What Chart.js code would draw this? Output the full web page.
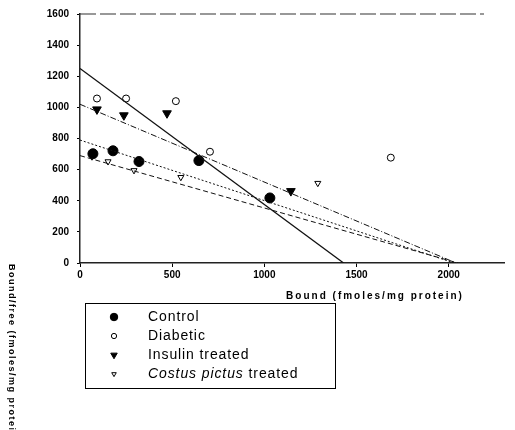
<!DOCTYPE html>
<html>
<head>
<meta charset="utf-8">
<script src="https://cdn.jsdelivr.net/npm/chart.js@4"></script>
<style>
    html, body { margin: 0; padding: 0; background: #fff; }
    #wrap { width: 515px; height: 430px; }
</style>
</head>
<body>
<div id="wrap"><canvas id="chart-scatchard"></canvas></div>
<script>
// Scatchard plot: bound vs bound/free for the four groups
var controlX = [70, 179, 320, 645, 1030];
var controlY = [702, 721, 652, 658, 418];
var diabeticX = [92, 250, 520, 705, 1686];
var diabeticY = [1057, 1057, 1040, 715, 677];
var insulinX = [92, 238, 472, 1144];
var insulinY = [987, 949, 962, 462];
var costusX = [65, 152, 293, 547, 1290];
var costusY = [683, 652, 595, 551, 513];

// regression lines as [y-intercept, x-intercept]
var controlFit = [790, 2030];
var diabeticFit = [1250, 1430];
var insulinFit = [1020, 2040];
var costusFit = [690, 2050];

var xTicks = [0, 500, 1000, 1500, 2000];
var yTicks = [0, 200, 400, 600, 800, 1000, 1200, 1400, 1600];

function pts(xs, ys) {
    return xs.map(function(x, i) { return {x: x, y: ys[i]}; });
}
function fit(f) {
    return [{x: 0, y: f[0]}, {x: f[1], y: 0}];
}
function lineSet(f, dash, width) {
    return {
        type: 'line', data: fit(f), showLine: true, pointRadius: 0,
        borderColor: '#111', borderWidth: width, borderDash: dash, fill: false
    };
}

var groups = [
    {label: 'Control', style: 'circle', radius: 5, rotation: 0, fill: '#000'},
    {label: 'Diabetic', style: 'circle', radius: 3.5, rotation: 0, fill: '#fff'},
    {label: 'Insulin treated', style: 'triangle', radius: 5, rotation: 180, fill: '#000'},
    {label: 'Costus pictus treated', style: 'triangle', radius: 3.5, rotation: 180, fill: '#fff'}
];
var groupData = [pts(controlX, controlY), pts(diabeticX, diabeticY), pts(insulinX, insulinY), pts(costusX, costusY)];

var datasets = [
    lineSet(diabeticFit, [], 1.3),
    lineSet(insulinFit, [6, 2, 1, 2], 1),
    lineSet(controlFit, [2, 2], 1),
    lineSet(costusFit, [5, 3], 1)
];
groups.forEach(function(g, i) {
    datasets.push({
        type: 'scatter', label: g.label, data: groupData[i],
        pointStyle: g.style, pointRadius: g.radius, pointRotation: g.rotation,
        pointBackgroundColor: g.fill, pointBorderColor: '#000', pointBorderWidth: 1
    });
});

var extras = {
    id: 'extras',
    afterDraw: function(chart) {
        var c = chart.ctx;
        var area = chart.chartArea;
        var ys = chart.scales.y;
        c.save();
        // top frame line at the y maximum
        c.strokeStyle = '#333';
        c.lineWidth = 1.2;
        c.setLineDash([16, 4]);
        c.beginPath();
        c.moveTo(area.left, ys.getPixelForValue(1600));
        c.lineTo(area.right - 20, ys.getPixelForValue(1600));
        c.stroke();
        c.setLineDash([]);

        // axis titles
        c.fillStyle = '#000';
        c.font = 'bold 10px Arial, "Liberation Sans"';
        c.letterSpacing = '2px';
        c.textAlign = 'center';
        c.textBaseline = 'middle';
        c.fillText('Bound (fmoles/mg protein)', 375, 296);

        c.save();
        c.translate(11, 264);
        c.rotate(Math.PI / 2);
        c.textAlign = 'left';
        c.font = 'bold 9px Arial, "Liberation Sans"';
        c.letterSpacing = '1.5px';
        c.fillText('Bound/free (fmoles/mg protein)', 0, 0);
        c.restore();

        // legend box
        c.letterSpacing = '0px';
        c.strokeStyle = '#000';
        c.lineWidth = 1;
        c.strokeRect(85.5, 303.5, 250, 85);
        c.font = '14px Arial, "Liberation Sans"';
        c.letterSpacing = '0.9px';
        c.textAlign = 'left';
        var rows = [317, 336, 355, 374];
        groups.forEach(function(g, i) {
            c.fillStyle = g.fill;
            c.strokeStyle = '#000';
            c.lineWidth = 1;
            Chart.helpers.drawPoint(c, {pointStyle: g.style, radius: g.radius * 0.75, rotation: g.rotation, borderWidth: 1}, 114, rows[i]);
            c.fillStyle = '#000';
            if (i === 3) {
                c.font = 'italic 14px Arial, "Liberation Sans"';
                c.fillText('Costus pictus', 148, rows[i]);
                var w = c.measureText('Costus pictus ').width;
                c.font = '14px Arial, "Liberation Sans"';
                c.fillText('treated', 148 + w, rows[i]);
            } else {
                c.fillText(g.label, 148, rows[i]);
            }
        });
        c.restore();
    }
};

var tickFont = {family: 'Arial', size: 10, weight: 'bold'};
function plain(v) { return String(v); }

new Chart(document.getElementById('chart-scatchard'), {
    type: 'scatter',
    data: {datasets: datasets},
    options: {
        responsive: true,
        maintainAspectRatio: false,
        animation: false,
        layout: {padding: {left: 0, top: 10, right: 11, bottom: 147}},
        plugins: {legend: {display: false}, tooltip: {enabled: false}},
        scales: {
            x: {
                type: 'linear', min: 0, max: 2300,
                afterBuildTicks: function(s) { s.ticks = xTicks.map(function(v) { return {value: v}; }); },
                afterFit: function(s) { s.height = 20; },
                grid: {display: true, drawOnChartArea: false, drawTicks: true, tickLength: 4, color: '#000'},
                border: {display: true, color: '#222', width: 1.5},
                ticks: {color: '#000', font: tickFont, padding: 2, callback: plain}
            },
            y: {
                type: 'linear', min: 0, max: 1600,
                afterBuildTicks: function(s) { s.ticks = yTicks.map(function(v) { return {value: v}; }); },
                afterFit: function(s) { s.width = 80; },
                grid: {display: true, drawOnChartArea: false, drawTicks: true, tickLength: 3, color: '#000'},
                border: {display: true, color: '#222', width: 1.5},
                ticks: {color: '#000', font: tickFont, padding: 8, callback: plain}
            }
        }
    },
    plugins: [extras]
});
</script>
</body>
</html>
